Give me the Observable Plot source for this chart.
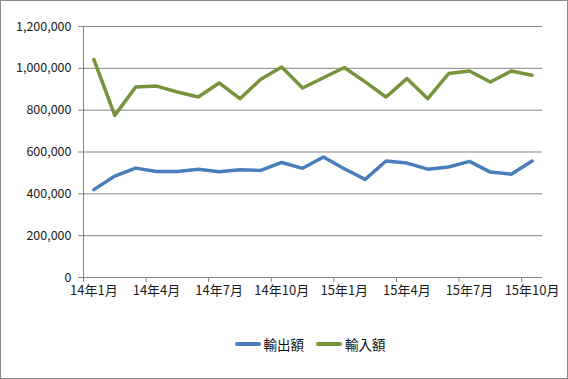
<!DOCTYPE html>
<html>
<head>
<meta charset="utf-8">
<script src="https://cdn.jsdelivr.net/npm/d3@7"></script>
<script src="https://cdn.jsdelivr.net/npm/@observablehq/plot@0.6"></script>
<style>
  body { margin: 0; background: #fff; }
  #wrap { position: relative; width: 568px; height: 379px; box-sizing: border-box; border: 1px solid #8a8a8a; background: #fff; font-family: "Noto Sans CJK JP", sans-serif; }
  #chart svg { display: block; }
  #legend { position: absolute; left: 0; top: 333px; width: 566px; box-sizing: border-box; padding-left: 52px; display: flex; justify-content: center; align-items: center; font-size: 13.5px; color: #111; }
  .item { display: flex; align-items: center; margin: 0 6px; }
  .sw { width: 26px; height: 4px; border-radius: 2px; margin-right: 3px; }
</style>
</head>
<body>
<div id="wrap">
  <div id="chart"></div>
  <div id="legend"></div>
</div>
<script>
const months = ["14年1月","14年2月","14年3月","14年4月","14年5月","14年6月","14年7月","14年8月","14年9月","14年10月","14年11月","14年12月",
                "15年1月","15年2月","15年3月","15年4月","15年5月","15年6月","15年7月","15年8月","15年9月","15年10月"];
const exportValues = [420000,485000,523000,507000,507000,517000,506000,515000,512000,550000,522000,576000,
                      520000,469000,557000,547000,518000,528000,555000,504000,494000,557000];
const importValues = [1042000,775000,911000,915000,887000,863000,930000,855000,948000,1006000,906000,955000,
                      1004000,935000,863000,951000,855000,975000,987000,935000,987000,967000];
const seriesNames = ["輸出額","輸入額"];
const seriesColors = ["#4a7ebb","#77933c"];
const yTicks = [0,200000,400000,600000,800000,1000000,1200000];
const tickIdx = [0,3,6,9,12,15,18,21];

const rows = months.flatMap((m, i) => [
  {i, m, series: seriesNames[0], v: exportValues[i]},
  {i, m, series: seriesNames[1], v: importValues[i]}
]);

const chart = Plot.plot({
  width: 566, height: 300,
  marginLeft: 82, marginRight: 25, marginTop: 25, marginBottom: 24,
  style: {fontFamily: "'Noto Sans CJK JP', sans-serif", fontSize: "12px", color: "#1a1a1a"},
  x: {type: "linear", domain: [0, months.length], axis: null},
  y: {domain: [0, 1200000], axis: null},
  color: {domain: seriesNames, range: seriesColors},
  marks: [
    Plot.gridY(yTicks, {stroke: "#868686", strokeOpacity: 1}),
    Plot.ruleX([0], {stroke: "#868686"}),
    Plot.axisY(yTicks, {label: null, tickSize: 5, tickPadding: 7, tickFormat: d3.format(","), stroke: "#868686", fill: "#1a1a1a", fontSize: 12.5}),
    Plot.axisX(tickIdx, {label: null, tickSize: 5, tickFormat: () => "", stroke: "#868686"}),
    Plot.axisX(tickIdx.map(i => i + 0.5), {label: null, tickSize: 0, tickPadding: 8, tickFormat: d => months[Math.round(d - 0.5)], fill: "#1a1a1a", fontSize: 13}),
    Plot.line(rows, {x: d => d.i + 0.5, y: "v", z: "series", stroke: "series", strokeWidth: 3.5, strokeLinejoin: "round", strokeLinecap: "round"})
  ]
});
document.getElementById("chart").appendChild(chart);

const legend = document.getElementById("legend");
seriesNames.forEach((name, k) => {
  const item = document.createElement("div");
  item.className = "item";
  const sw = document.createElement("div");
  sw.className = "sw";
  sw.style.background = seriesColors[k];
  const lab = document.createElement("span");
  lab.textContent = name;
  item.appendChild(sw);
  item.appendChild(lab);
  legend.appendChild(item);
});
</script>
</body>
</html>
